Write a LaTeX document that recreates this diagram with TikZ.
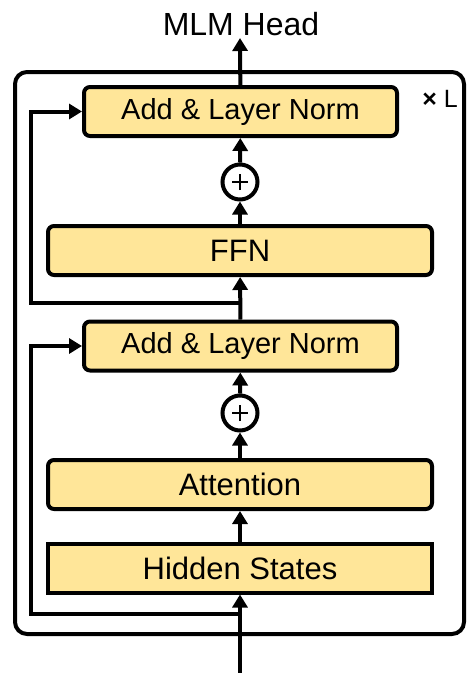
\documentclass[tikz,border=0pt]{standalone}
\usepackage{fontspec}
\setmainfont{Liberation Sans}
\usetikzlibrary{arrows.meta}
\definecolor{boxfill}{HTML}{FFE699}

\begin{document}
\begin{tikzpicture}[x=1pt,y=-1pt]
\tikzset{layer/.style={rectangle, draw, line width=4pt, fill=boxfill, rounded corners=6pt, minimum height=49pt, inner sep=0pt, font=\fontsize{31}{36}\selectfont},
		norm/.style={layer, minimum width=313pt, font=\fontsize{29}{34}\selectfont},
		wide/.style={layer, minimum width=384pt},
		hidden/.style={wide, rounded corners=0pt},
		sum/.style={circle, draw, line width=4pt, minimum size=35pt, inner sep=0pt},
		flow/.style={line width=4pt, >={Triangle[length=13pt,width=15pt]}}}
\useasboundingbox (0,0) rectangle (467,673);
% encoder block, repeated L times
\draw[line width=4pt, rounded corners=12pt] (15,72) rectangle (464,634);
\node (rep) at (440,99) {\fontsize{25}{28}\selectfont \textbf{×} L};
\node[hidden] (HS) at (240,568) {Hidden States};
\node[wide] (Att) at (240,484.5) {Attention};
\node[sum] (S1) at (240,413) {};
\node[norm] (AN1) at (240.5,346) {Add \& Layer Norm};
\node[wide] (FFN) at (240,250.5) {FFN};
\node[sum] (S2) at (240,182) {};
\node[norm] (AN2) at (240.5,111.5) {Add \& Layer Norm};
\node (MLM) at (241,24) {\fontsize{32}{36}\selectfont MLM Head};
% plus signs
\draw[line width=2.5pt] ([xshift=-8pt]S1.center) -- ([xshift=8pt]S1.center) ([yshift=-8pt]S1.center) -- ([yshift=8pt]S1.center);
\draw[line width=2.5pt] ([xshift=-8pt]S2.center) -- ([xshift=8pt]S2.center) ([yshift=-8pt]S2.center) -- ([yshift=8pt]S2.center);
% main path
\coordinate (in) at (240,673);
\coordinate (b1) at (240,614);
\coordinate (b2) at (240,303);
\coordinate (out) at (240,38);
\draw[flow,->] (in) -- (HS);
\draw[flow,->] (HS) -- (Att);
\draw[flow,->] (Att) -- (S1);
\draw[flow,->] (S1) -- (AN1);
\draw[flow,->] (AN1) -- (FFN);
\draw[flow,->] (FFN) -- (S2);
\draw[flow,->] (S2) -- (AN2);
\draw[flow,->] (AN2) -- (out);
% residual connections
\draw[flow,->] (b1) -| (31,346) -- (AN1.west);
\draw[flow,->] (b2) -| (31,111.5) -- (AN2.west);
\end{tikzpicture}
\end{document}
